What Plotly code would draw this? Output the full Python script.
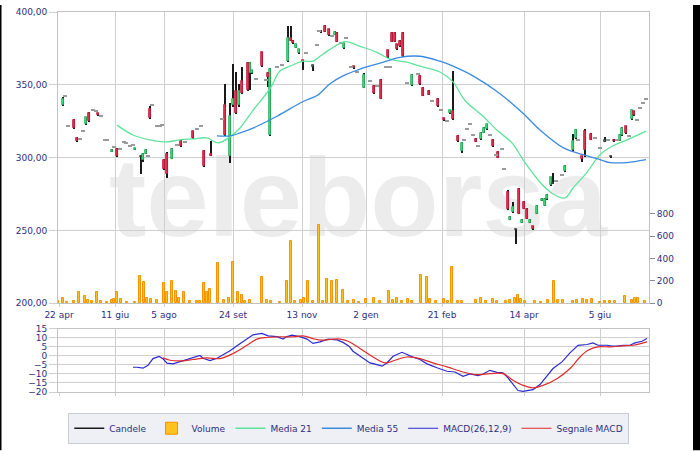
import plotly.graph_objects as go

# ---------------- data ----------------
date_ticks = [0, 28, 52.5, 87, 121.5, 153.5, 191.5, 232.5, 270.5]
date_labels = ["22 apr", "11 giu", "5 ago", "24 set", "13 nov", "2 gen", "21 feb", "14 apr", "5 giu"]

price_ticks = [200, 250, 300, 350, 400]
price_labels = ["200,00", "250,00", "300,00", "350,00", "400,00"]
vol_ticks = [0, 200, 400, 600, 800]
macd_ticks = [-20, -15, -10, -5, 0, 5, 10, 15]

# candles: session index, open, high, low, close
cx = [2, 3, 4.5, 7.5, 9, 10.5, 12, 13.5, 15, 17, 18.5, 19.5, 21, 23, 24, 26.5, 27.5, 29, 30.5, 32.5,
      33.5, 35.5, 37, 38, 41, 42, 43.5, 44.5, 45.5, 46.5, 49, 50.5, 51.5, 52.5, 54, 56.5, 59, 61, 63, 67,
      69, 71, 72.5, 76, 81.5, 83, 85.5, 87, 88.5, 90, 91.5, 94.5, 95.5, 96.5, 98.5, 101.5, 103.5, 104.5, 105.5, 109,
      111.5, 114.5, 116, 117, 118.5, 120, 122, 123.5, 127, 129, 130, 131, 133, 135, 136.5, 138, 139, 141, 142.5, 143.5,
      146, 147.5, 149, 152.5, 155.5, 157.5, 159, 161, 163.5, 164.5, 165.5, 166.5, 168, 169, 170.5, 172, 174, 176.5, 179.5, 180.5,
      182, 185, 186.5, 189.5, 191, 192.5, 194, 195.5, 197, 199.5, 201.5, 202.5, 204, 205.5, 207, 208.5, 209.5, 211, 212.5, 214,
      215.5, 217, 218.5, 219.5, 221.5, 222.5, 224.5, 225.5, 227, 228.5, 230, 231.5, 232.5, 234, 235.5, 237, 239, 241.5, 243, 244,
      246, 247, 248.5, 251.5, 253, 257, 258.5, 259.5, 261.5, 263, 266, 268, 270.5, 273, 274.5, 276, 277.5, 279, 280.5, 281.5,
      283.5, 285, 286.5, 287.5, 289, 290.5, 292, 293.5]
c_open = [335.8, 342.6, 321.6, 325.7, 313.5, 312.8, 318.2, 323.0, 330.4, 332.4, 331.8, 330.4, 328.4, 312.2, 312.2, 304.0, 307.4, 306.1, 306.1, 310.8,
          310.1, 308.1, 308.8, 305.4, 301.0, 298.6, 302.7, 301.4, 333.1, 335.8, 321.6, 321.6, 322.3, 298.6, 302.7, 299.3, 308.8, 311.5, 310.8, 318.2,
          319.6, 321.6, 304.7, 302.0, 326.4, 336.0, 301.0, 335.8, 346.0, 335.8, 352.7, 364.9, 358.1, 358.0, 354.0, 372.3, 353.4, 358.1, 315.5, 362.2,
          363.5, 366.2, 382.4, 380.4, 375.5, 371.5, 366.8, 371.6, 363.2, 377.0, 387.2, 387.2, 390.5, 388.0, 383.8, 384.5, 385.8, 378.4, 375.0, 382.4,
          362.2, 362.8, 358.8, 348.0, 352.7, 349.5, 349.3, 353.4, 362.2, 373.6, 362.0, 385.8, 385.8, 377.7, 380.4, 385.8, 351.4, 350.0, 357.4, 356.1,
          348.0, 346.0, 339.2, 340.5, 333.0, 327.0, 325.0, 330.4, 332.0, 314.9, 304.7, 312.2, 319.6, 323.0, 315.5, 312.8, 308.1, 312.8, 317.0, 319.6,
          315.5, 312.2, 302.0, 304.0, 306.1, 291.9, 276.4, 257.4, 262.8, 250.7, 278.4, 255.4, 269.6, 264.9, 255.4, 252.7, 261.5, 270.3, 266.9, 271.6,
          281.1, 282.4, 283.8, 287.8, 290.5, 305.0, 313.5, 312.2, 301.0, 318.2, 316.2, 313.5, 306.8, 311.5, 312.2, 301.0, 312.2, 312.2, 311.5, 315.5,
          321.6, 314.9, 326.4, 331.8, 325.7, 334.0, 337.2, 340.0]
c_high = [341.3, 342.6, 321.6, 326.2, 314.0, 312.8, 318.2, 328.2, 331.0, 332.4, 331.8, 330.8, 328.4, 312.2, 312.2, 305.8, 307.4, 306.6, 306.1, 310.8,
          310.1, 308.1, 308.8, 306.5, 301.6, 303.2, 305.8, 301.4, 335.1, 335.8, 321.6, 321.6, 322.3, 299.0, 304.0, 306.5, 308.8, 312.0, 310.8, 318.6,
          319.6, 321.6, 305.2, 311.5, 326.4, 350.7, 337.2, 364.2, 358.8, 350.7, 362.2, 365.5, 365.5, 360.5, 354.0, 372.8, 353.4, 358.5, 361.5, 362.2,
          363.5, 390.5, 390.5, 380.8, 378.2, 374.8, 367.2, 371.6, 363.8, 377.0, 387.2, 387.6, 391.0, 388.5, 383.8, 387.0, 386.2, 378.4, 378.8, 382.4,
          362.2, 363.2, 358.8, 358.0, 352.7, 350.0, 349.3, 354.0, 362.2, 374.0, 362.0, 386.2, 386.2, 378.2, 380.8, 386.2, 351.4, 357.3, 357.4, 356.6,
          348.5, 346.5, 339.2, 341.0, 333.0, 327.4, 325.0, 332.8, 359.5, 315.4, 311.0, 312.2, 319.6, 323.0, 315.5, 313.2, 308.1, 317.3, 320.7, 323.4,
          315.5, 312.6, 302.0, 304.5, 306.1, 291.9, 278.0, 259.9, 269.6, 251.2, 278.8, 257.8, 270.0, 265.3, 257.8, 253.1, 267.4, 272.0, 272.0, 274.7,
          286.9, 289.2, 283.8, 287.8, 294.6, 316.2, 319.3, 312.2, 301.4, 319.5, 316.6, 313.5, 306.8, 314.3, 312.2, 301.4, 312.6, 312.2, 315.9, 320.7,
          322.0, 314.9, 332.8, 332.2, 325.7, 334.0, 337.2, 340.0]
c_low = [335.2, 342.6, 321.6, 319.8, 311.0, 312.8, 318.2, 322.5, 324.5, 332.4, 331.8, 328.6, 328.4, 312.2, 312.2, 303.6, 307.4, 300.5, 306.1, 310.8,
         310.1, 308.1, 308.8, 305.0, 288.5, 297.0, 302.3, 301.4, 326.5, 335.8, 321.6, 321.6, 322.3, 291.5, 285.8, 299.0, 308.8, 307.6, 310.8, 313.0,
         319.6, 321.6, 293.5, 301.0, 326.4, 315.0, 296.6, 335.0, 330.0, 335.0, 344.0, 346.0, 346.6, 357.5, 354.0, 362.3, 353.4, 348.6, 315.0, 362.2,
         363.5, 366.0, 380.0, 378.0, 375.0, 371.0, 360.0, 371.6, 359.5, 377.0, 387.2, 385.6, 386.0, 383.5, 383.8, 384.0, 379.2, 378.4, 374.5, 382.4,
         362.2, 361.0, 358.8, 347.5, 352.7, 344.0, 349.3, 340.0, 362.2, 368.5, 362.0, 379.2, 379.2, 373.8, 376.0, 369.0, 351.4, 349.5, 357.4, 350.2,
         342.1, 342.7, 339.2, 334.6, 333.0, 325.0, 325.0, 330.0, 326.0, 311.0, 303.0, 312.2, 319.6, 323.0, 315.5, 310.5, 308.1, 312.4, 316.6, 319.2,
         315.5, 307.6, 302.0, 299.5, 306.1, 291.9, 264.0, 257.0, 262.0, 240.5, 261.0, 255.0, 264.4, 257.6, 255.0, 250.3, 261.0, 270.0, 266.5, 271.2,
         280.7, 282.0, 283.8, 287.8, 290.0, 304.0, 313.0, 312.2, 297.0, 300.7, 311.8, 313.5, 306.8, 311.0, 312.2, 300.0, 311.0, 312.2, 311.1, 315.1,
         316.5, 314.9, 326.0, 328.7, 325.7, 334.0, 337.2, 340.0]
c_close = [340.5, 342.6, 321.6, 320.3, 311.5, 312.8, 318.2, 327.7, 325.0, 332.4, 331.8, 329.0, 328.4, 312.2, 312.2, 305.4, 307.4, 301.4, 306.1, 310.8,
           310.1, 308.1, 308.8, 306.1, 300.7, 302.7, 305.4, 301.4, 327.1, 335.8, 321.6, 321.6, 322.3, 292.0, 288.5, 306.1, 308.8, 308.1, 310.8, 313.5,
           319.6, 321.6, 294.1, 301.4, 326.4, 315.5, 328.4, 340.5, 330.4, 345.9, 344.6, 346.6, 364.9, 360.0, 354.0, 362.8, 353.4, 355.4, 360.8, 362.2,
           363.5, 382.4, 380.4, 378.4, 377.7, 374.3, 366.2, 371.6, 362.8, 377.0, 387.2, 386.0, 386.5, 384.0, 383.8, 386.5, 379.7, 378.4, 378.4, 382.4,
           362.2, 361.5, 358.8, 356.8, 352.7, 344.6, 349.3, 340.5, 362.2, 368.9, 362.0, 379.7, 379.7, 374.3, 376.4, 369.6, 351.4, 356.8, 357.4, 350.7,
           342.6, 343.2, 339.2, 335.1, 333.0, 325.5, 325.0, 332.4, 326.4, 311.5, 310.1, 312.2, 319.6, 323.0, 315.5, 311.0, 308.1, 316.9, 320.3, 323.0,
           315.5, 308.1, 302.0, 300.0, 306.1, 291.9, 264.9, 259.5, 266.2, 250.2, 261.5, 257.4, 264.9, 258.1, 257.4, 250.7, 267.0, 271.6, 271.6, 274.3,
           286.5, 282.0, 283.8, 287.8, 294.1, 311.5, 318.9, 312.2, 299.0, 305.4, 312.2, 313.5, 306.8, 311.5, 312.2, 300.5, 311.5, 312.2, 315.5, 320.3,
           316.9, 314.9, 332.4, 329.1, 325.7, 334.0, 337.2, 340.0]

# volume (thousands)
vx = [-0.5, 2, 4, 7.5, 10, 13, 14.5, 16.5, 19, 21, 24, 26.5, 27.5, 29, 31, 34, 38, 40.5, 42.5, 44, 46, 49, 52.5, 54, 56.5, 58.5,
      60, 62.5, 65.5, 69, 70.5, 72.5, 74, 75.5, 79.5, 82.5, 85, 87, 89.5, 91.5, 93, 95.5, 101.5, 104, 106, 110.5, 114, 116, 118, 121,
      122.5, 124.5, 127, 130, 132, 134, 136.5, 139, 142, 144.5, 147.5, 150, 153.5, 157.5, 160.5, 165, 167, 169, 171.5, 174.5, 176.5, 181,
      184, 185.5, 188.5, 192.5, 194.5, 196.5, 199.5, 201.5, 208.5, 211, 213.5, 217, 219, 223.5, 225.5, 228, 229.5, 231, 233, 238, 241,
      244.5, 247.5, 249.5, 252, 257, 259, 262, 264, 266.5, 270.5, 273, 275.5, 278, 283, 286.5, 288, 289.5, 293]
vol = [15, 45, 10, 20, 100, 60, 25, 15, 100, 15, 10, 30, 35, 100, 40, 10, 10, 245, 190, 50, 40, 30, 180, 100, 200, 105,
       50, 100, 15, 15, 15, 180, 100, 130, 355, 25, 50, 365, 100, 70, 20, 30, 235, 30, 15, 10, 200, 560, 20, 25,
       50, 200, 15, 695, 15, 215, 200, 205, 120, 15, 30, 10, 40, 45, 15, 110, 25, 45, 15, 35, 15, 250,
       235, 40, 15, 40, 20, 320, 20, 20, 25, 45, 15, 40, 15, 20, 25, 45, 75, 40, 20, 15, 10,
       30, 200, 30, 25, 20, 25, 40, 30, 40, 10, 20, 20, 20, 60, 30, 45, 45, 20]

# moving averages
ma21_x = [29, 37, 45.5, 54, 60.5, 67, 74, 79.5, 85.5, 90.5, 97, 105.5, 110.5, 115.5, 122, 127, 130.5, 135.5, 143, 150.5,
          159, 165.5, 174, 180.5, 190.5, 197, 203, 212, 219.5, 226.5, 232, 234, 240.5, 247, 253, 257, 264, 270.5, 277, 284, 293.5]
ma21 = [322.3, 315.5, 312.2, 310.8, 312.2, 312.8, 313.5, 310.1, 314.2, 320.3, 332.4, 347.3, 359.5, 362.8, 366.2, 366.2, 369.6, 374.3, 379.7, 376.4,
        372.3, 367.6, 365.5, 362.8, 358.8, 352.0, 339.2, 328.4, 318.2, 310.1, 298.6, 294.6, 283.1, 275.0, 272.3, 279.1, 289.9, 302.0, 308.1, 312.2, 318.2]
ma55_x = [79, 85.5, 90.5, 97, 109, 122, 129, 135.5, 142, 150.5, 160.5, 170.5, 180.5, 190.5, 197, 207, 220.5, 232, 240.5, 252,
          262, 270.5, 275.5, 284, 293.5]
ma55 = [314.9, 314.9, 316.9, 320.3, 328.4, 338.5, 342.6, 350.7, 356.1, 360.8, 364.9, 368.9, 369.6, 366.2, 362.8, 356.1, 343.9, 330.4, 318.9, 306.8,
        302.0, 298.6, 296.6, 296.6, 298.6]

# MACD
macd_x = [37, 39, 42, 44.5, 47, 50, 52, 54, 57, 60.5, 65.5, 70.5, 72, 75.5, 79, 82, 85.5, 89, 94, 97,
          101.5, 104.5, 109, 112, 114, 116.5, 120.5, 124, 127, 130.5, 134.5, 139, 142, 145, 147, 151.5, 155.5, 159, 161.5, 164,
          167, 171.5, 174, 177, 180.5, 184, 189, 194, 198, 202, 205.5, 209.5, 212, 215.5, 219, 222, 224.5, 227, 229.5, 232,
          235.5, 237, 240.5, 244, 247, 251.5, 255.5, 259.5, 264, 267, 269.5, 274, 276.5, 279, 282, 285.5, 288, 291.5, 294]
macd = [-6.3, -6.3, -6.8, -5.2, -1.5, -0.3, -1.6, -4.0, -4.4, -3.1, -1.6, 0.2, -1.3, -2.6, -1.3, 0.5, 2.8, 5.6, 9.6, 11.7,
        12.5, 11.1, 10.7, 9.3, 10.7, 11.5, 10.7, 9.3, 6.9, 7.8, 9.3, 8.9, 7.5, 5.4, 2.6, -1.1, -3.9, -4.8, -5.7, -3.9,
        -0.2, 2.0, 0.7, -0.7, -2.0, -4.4, -6.6, -8.5, -8.9, -11.3, -10.0, -10.9, -10.0, -8.0, -9.1, -9.4, -12.2, -15.9, -19.2, -19.6,
        -19.0, -18.7, -15.9, -11.3, -7.0, -3.3, 1.7, 5.8, 6.3, 7.2, 5.9, 5.9, 5.4, 5.4, 5.9, 5.9, 7.2, 8.1, 9.6]
sig_x = [52, 55.5, 60.5, 67, 74, 80.5, 87, 94, 99, 104, 110.5, 117, 122, 127, 131.5, 137, 140.5, 144.5, 150.5, 157,
         163, 168, 174, 180.5, 187, 194, 202, 209, 215.5, 222, 227, 232, 237, 242, 249, 255.5, 260.5, 264.5, 269.5, 275.5,
         282, 287, 294]
signal = [-1.1, -2.4, -2.8, -2.0, -1.1, -1.5, 1.3, 5.9, 9.3, 10.2, 10.6, 10.6, 11.1, 9.6, 8.7, 9.3, 9.3, 8.1, 4.1, -0.6,
          -3.9, -2.4, -0.6, -1.5, -3.9, -6.1, -8.9, -10.4, -9.8, -9.8, -13.5, -16.3, -17.7, -16.3, -12.6, -7.0, -0.6, 3.1, 5.0, 5.0,
          5.6, 5.9, 7.8]

# ---------------- build traces ----------------
TXT = "#2e2e80"
GRID = "#cfcfcf"
FONT = "DejaVu Sans"

up = dict(x=[], base=[], y=[])
dn = dict(x=[], base=[], y=[])
dj = dict(x=[], base=[], y=[])
dash = dict(x=[], base=[], y=[])
wick = dict(x=[], base=[], y=[])
for x, o, h, l, c in zip(cx, c_open, c_high, c_low, c_close):
    if h - l < 0.5:
        dash["x"].append(x); dash["base"].append(o - 0.35); dash["y"].append(0.7)
        continue
    wick["x"].append(x); wick["base"].append(l); wick["y"].append(h - l)
    lo, hi = min(o, c), max(o, c)
    if hi - lo < 1.0:
        mid = (hi + lo) / 2
        lo, hi = mid - 0.5, mid + 0.5
    tgt = up if c - o >= 0.6 else (dn if o - c >= 0.6 else dj)
    tgt["x"].append(x); tgt["base"].append(lo); tgt["y"].append(hi - lo)

fig = go.Figure()

fig.add_trace(go.Bar(x=vx, y=vol, yaxis="y2", name="Volume", width=1.4,
                     marker=dict(color="#ffc21f", line=dict(color="#f59300", width=1)),
                     hoverinfo="skip", legendrank=2))
# legend entry for candles (black line)
fig.add_trace(go.Scatter(x=[None], y=[None], mode="lines", name="Candele",
                         line=dict(color="#1a1a1a", width=1.5), legendrank=1))
# wicks as thin bars, drawn below the bodies
fig.add_trace(go.Bar(x=wick["x"], base=wick["base"], y=wick["y"], width=0.5,
                     marker=dict(color="#1a1a1a", line=dict(width=0)), showlegend=False, hoverinfo="skip"))
for d, fc, lc, lw, w in [(up, "#42da78", "#2bb060", 0.8, 1.4), (dn, "#e2314f", "#c21a3e", 0.8, 1.4),
                         (dj, "#4f8a66", "#333333", 0.8, 1.4), (dash, "#9a9a9a", "#9a9a9a", 0, 2.2)]:
    fig.add_trace(go.Bar(x=d["x"], base=d["base"], y=d["y"], width=w,
                         marker=dict(color=fc, line=dict(color=lc, width=lw)),
                         showlegend=False, hoverinfo="skip"))
fig.add_trace(go.Scatter(x=ma21_x, y=ma21, mode="lines", name="Media 21",
                         line=dict(color="#5fe39a", width=1.3, shape="spline"), legendrank=3))
fig.add_trace(go.Scatter(x=ma55_x, y=ma55, mode="lines", name="Media 55",
                         line=dict(color="#3a8be0", width=1.3, shape="spline"), legendrank=4))
fig.add_trace(go.Scatter(x=macd_x, y=macd, mode="lines", name="MACD(26,12,9)", xaxis="x2", yaxis="y3",
                         line=dict(color="#2a2ad0", width=1.2), legendrank=5))
fig.add_trace(go.Scatter(x=sig_x, y=signal, mode="lines", name="Segnale MACD", xaxis="x2", yaxis="y3",
                         line=dict(color="#e02a2a", width=1.2, shape="spline"), legendrank=6))

H = 451 - 7 - 59
main_dom = [(392 - 302) / H, 1]
macd_dom = [0, (392 - 328) / H]

tickfont = dict(family=FONT, size=9, color=TXT)
common_x = dict(range=[-0.5, 295], tickvals=date_ticks, ticktext=date_labels, showgrid=True,
                gridcolor=GRID, showline=True, linecolor="#c2c2c2", mirror=True, zeroline=False,
                ticks="outside", ticklen=3, tickcolor=GRID, tickfont=tickfont, fixedrange=True)

fig.update_layout(
    width=700, height=451,
    margin=dict(l=58, r=51, t=7, b=59),
    paper_bgcolor="white", plot_bgcolor="white",
    barmode="overlay", bargap=0,
    showlegend=True,
    xaxis=dict(domain=[0, 1], anchor="y", **common_x),
    yaxis=dict(domain=main_dom, range=[200, 400], tickvals=price_ticks, ticktext=price_labels,
               showgrid=True, gridcolor=GRID, showline=True, linecolor="#c2c2c2", mirror=True,
               zeroline=False, ticks="outside", ticklen=8, tickcolor=GRID, tickfont=tickfont),
    yaxis2=dict(overlaying="y", side="right", anchor="x", range=[0, 2602], tickvals=vol_ticks,
                showgrid=False, zeroline=False, ticks="outside", ticklen=5, tickcolor="#8a8aa0",
                tickfont=tickfont),
    xaxis2=dict(domain=[0, 1], anchor="y3", matches="x", **{k: v for k, v in common_x.items() if k != "tickfont"},
                showticklabels=False),
    yaxis3=dict(domain=macd_dom, range=[-20, 15], tickvals=macd_ticks, showgrid=True, gridcolor=GRID,
                showline=True, linecolor="#c2c2c2", mirror=True, zeroline=False, ticks="outside",
                ticklen=8, tickcolor=GRID, tickfont=tickfont),
    legend=dict(orientation="h", x=0.492, xanchor="center", y=-(413 - 392) / H, yanchor="top",
                bgcolor="#eef0f5", bordercolor="#c9ccd4", borderwidth=1,
                font=dict(family=FONT, size=9, color=TXT), itemwidth=30, traceorder="normal"),
    shapes=[
        dict(type="rect", xref="paper", yref="paper", x0=0.07, x1=0.945, y0=0.36, y1=0.72,
             line=dict(width=0), fillcolor="rgba(0,0,0,0)", layer="below",
             label=dict(text="<b>teleborsa</b>", textposition="middle center",
                        font=dict(family="Liberation Sans", size=112, color="#ececec"))),
        dict(type="rect", xref="paper", yref="paper", x0=-58 / 591, x1=(1.5 - 58) / 591,
             y0=-59 / H, y1=1 + 7 / H, line=dict(width=0), fillcolor="black"),
        dict(type="rect", xref="paper", yref="paper", x0=(693 - 58) / 591, x1=(700 - 58) / 591,
             y0=-59 / H, y1=1 + 7 / H, line=dict(width=0), fillcolor="black"),
    ],
)

fig.write_html("out.html", config={"displayModeBar": False},
               post_script="document.body.style.margin='0';document.body.style.overflow='hidden';")
